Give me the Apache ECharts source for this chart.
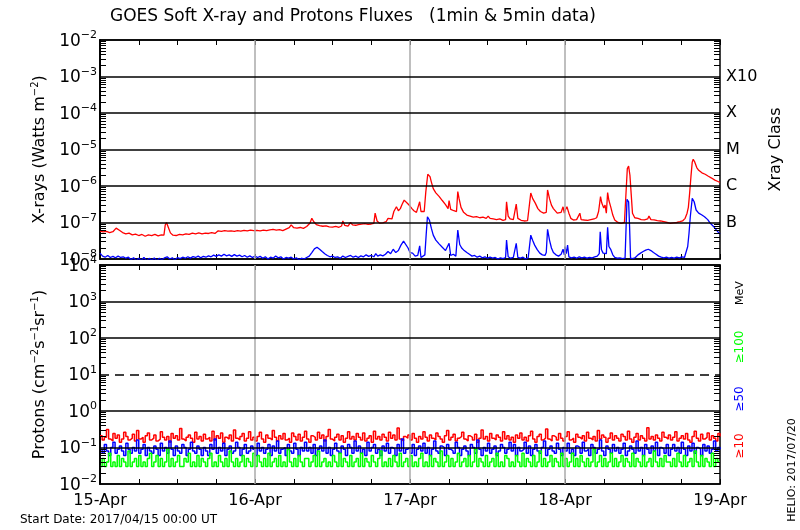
<!DOCTYPE html>
<html><head><meta charset="utf-8">
<script src="https://cdn.jsdelivr.net/npm/echarts@6/dist/echarts.min.js"></script>
<style>html,body{margin:0;padding:0;background:#fff}#c{width:800px;height:530px}</style>
</head><body><div id="c"></div>
<script>
const dayLabels = ['15-Apr','16-Apr','17-Apr','18-Apr','19-Apr'];
const xrayClassExponents = [-7,-6,-5,-4,-3];
const xrayClassLabels = ['B','C','M','X','X10'];
const xrayGridValues = [1e-3,1e-4,1e-5,1e-6,1e-7];
const protonGridValues = [1e3,1e2,1e1,1e0,1e-1];
const protonDashedValue = 10;
const dayBoundaries = [24,48,72];

// GOES long channel (1-8 A), [hours since start, W/m^2]
const xrayLong = [
[0,5.8e-8],[0.5,5.5e-8],[1,5.7e-8],[1.5,5.3e-8],[2,5.6e-8],[2.5,7.0e-8],[3,6.1e-8],[3.5,5.3e-8],[4,4.9e-8],[4.5,5.1e-8],[5,4.6e-8],[5.5,4.8e-8],[6,4.4e-8],[6.5,4.7e-8],[7,4.2e-8],[7.5,4.6e-8],[8,4.4e-8],[8.5,4.7e-8],[9,4.3e-8],[9.5,4.6e-8],[9.9,4.5e-8],[10.1,8.5e-8],[10.3,1.0e-7],[10.6,7.2e-8],[10.9,5.2e-8],
[11.3,4.5e-8],[11.8,4.4e-8],[12.3,4.7e-8],[12.8,4.6e-8],[13.3,4.9e-8],[13.8,4.7e-8],[14.3,5.1e-8],[14.8,4.9e-8],[15.3,5.2e-8],[15.8,4.9e-8],[16.3,5.1e-8],[16.8,5.0e-8],[17.3,5.3e-8],[17.8,5.0e-8],[18.3,5.9e-8],[18.8,5.7e-8],[19.3,6.0e-8],[19.8,5.8e-8],[20.3,5.9e-8],[20.8,5.7e-8],[21.3,6.0e-8],[21.8,5.8e-8],[22.3,6.1e-8],[22.8,5.9e-8],[23.3,6.2e-8],[23.8,6.0e-8],
[24.3,6.1e-8],[24.8,5.9e-8],[25.3,6.2e-8],[25.8,6.0e-8],[26.3,6.3e-8],[26.8,6.5e-8],[27.3,6.2e-8],[27.8,6.4e-8],[28.3,6.0e-8],[28.8,6.6e-8],[29.3,7.2e-8],[29.6,8.6e-8],[30,7.2e-8],[30.5,7.0e-8],[31,7.3e-8],[31.5,6.9e-8],[32,7.8e-8],[32.5,9.5e-8],[32.8,1.3e-7],[33.1,1.05e-7],[33.5,8.8e-8],[34,8.2e-8],[34.5,7.9e-8],[35,8.1e-8],[35.5,7.6e-8],[36,7.5e-8],[36.5,7.8e-8],[37,7.4e-8],[37.4,8.0e-8],[37.6,1.1e-7],[37.9,8.3e-8],[38.4,8.0e-8],[38.8,1.0e-7],[39.1,8.6e-8],[39.6,8.4e-8],[40,8.8e-8],[40.5,9.0e-8],[41,9.3e-8],[41.5,8.9e-8],[42,9.1e-8],[42.4,9.5e-8],[42.6,1.8e-7],[42.9,1.1e-7],[43.3,9.6e-8],[43.8,9.8e-8],[44.3,1.05e-7],[44.6,1.3e-7],[44.9,1.15e-7],[45.2,1.25e-7],[45.5,2.0e-7],[45.9,2.7e-7],[46.2,2.1e-7],[46.5,2.4e-7],[46.8,3.2e-7],[47.1,4.1e-7],[47.4,3.7e-7],[47.7,3.2e-7],
[48,2.8e-7],[48.3,2.4e-7],[48.6,2.1e-7],[49,1.9e-7],[49.3,1.8e-7],[49.5,3.7e-7],[49.7,2.0e-7],[50,1.8e-7],[50.2,2.0e-7],[50.45,7.0e-7],[50.75,2.1e-6],[51.1,1.8e-6],[51.3,1.3e-6],[51.6,8.5e-7],[52,6.5e-7],[52.5,5.2e-7],[53,4.0e-7],[53.5,3.1e-7],[53.9,2.4e-7],[54.05,4.0e-7],[54.3,2.3e-7],[54.8,2.1e-7],[55.2,2.0e-7],[55.4,7.0e-7],[55.6,4.5e-7],[55.9,2.6e-7],[56.3,1.9e-7],[56.8,1.6e-7],[57.3,1.5e-7],[57.8,1.4e-7],[58.3,1.45e-7],[58.8,1.35e-7],[59.3,1.4e-7],[59.8,1.3e-7],[60.1,1.5e-7],[60.4,1.3e-7],[60.9,1.25e-7],[61.4,1.2e-7],[61.9,1.25e-7],[62.4,1.15e-7],[62.8,1.2e-7],[62.95,3.7e-7],[63.2,1.5e-7],[63.5,1.25e-7],[64,1.2e-7],[64.3,1.3e-7],[64.45,3.2e-7],[64.7,1.3e-7],[65.2,1.15e-7],[65.7,1.1e-7],[66.2,1.12e-7],[66.5,1.1e-7],[66.7,6.4e-7],[67,4.5e-7],[67.4,3.4e-7],[67.8,2.4e-7],[68.2,2.0e-7],[68.7,1.8e-7],[69.1,1.9e-7],[69.3,7.8e-7],[69.6,4.5e-7],[69.9,3.0e-7],[70.2,2.4e-7],[70.5,2.6e-7],[70.8,1.8e-7],[71.1,1.6e-7],[71.4,1.9e-7],[71.7,2.7e-7],[71.9,1.8e-7],
[72,2.1e-7],[72.3,2.7e-7],[72.6,1.8e-7],[72.9,1.3e-7],[73.3,1.17e-7],[73.8,1.2e-7],[74.1,1.15e-7],[74.3,1.8e-7],[74.5,1.2e-7],[75,1.17e-7],[75.5,1.15e-7],[76,1.2e-7],[76.5,1.25e-7],[76.9,1.35e-7],[77.2,2.0e-7],[77.5,5.1e-7],[77.7,3.4e-7],[78,2.5e-7],[78.2,3.0e-7],[78.4,1.8e-7],[78.6,6.6e-7],[78.8,4.0e-7],[79.1,2.6e-7],[79.4,1.6e-7],[79.7,1.17e-7],[80.2,1.0e-7],[80.7,9.5e-8],[81.2,1.0e-7],[81.5,1.1e-7],[81.65,3.0e-6],[81.85,3.5e-6],[82.05,2.0e-6],[82.25,6.0e-7],[82.45,1.8e-7],[82.8,1.35e-7],[83.3,1.3e-7],[83.8,1.2e-7],[84.3,1.18e-7],[84.8,1.25e-7],[85,1.5e-7],[85.3,1.2e-7],[85.8,1.18e-7],[86.3,1.12e-7],[86.8,1.1e-7],[87.3,1.05e-7],[87.8,1.0e-7],[88.3,9.5e-8],[88.8,9.8e-8],[89.3,1.0e-7],[89.8,1.05e-7],[90.2,1.1e-7],[90.6,1.3e-7],[90.9,1.8e-7],[91.1,2.6e-7],[91.3,6.4e-7],[91.5,1.8e-6],[91.7,4.5e-6],[91.85,5.4e-6],[92.1,4.5e-6],[92.4,3.2e-6],[92.7,2.7e-6],[93.2,2.3e-6],[93.7,2.1e-6],[94.2,1.85e-6],[94.7,1.65e-6],[95.2,1.45e-6],[95.6,1.35e-6],[96,1.25e-6]
];

// GOES short channel (0.5-4 A), [hours since start, W/m^2]
const xrayShort = [
[0,1.45e-8],[0.4,1.2e-8],[0.8,1.12e-8],[1.2,1.25e-8],[1.6,1.1e-8],[2,1.18e-8],[2.4,1.08e-8],[2.8,1.2e-8],[3.2,1.1e-8],[3.6,1.15e-8],[4,1.05e-8],[4.4,1.12e-8],[4.8,0.95e-8],[5.2,1.08e-8],[5.6,0.9e-8],[6,1.05e-8],[6.4,0.92e-8],[6.8,1.1e-8],[7.2,0.9e-8],[7.6,1.04e-8],[8,0.93e-8],[8.4,1.06e-8],[8.8,0.9e-8],[9.2,1.05e-8],[9.6,0.95e-8],[10,1.08e-8],[10.4,1.15e-8],[10.8,1.0e-8],[11.2,1.08e-8],[11.6,0.93e-8],[12,1.1e-8],[12.4,1.02e-8],[12.8,1.12e-8],[13.2,1.05e-8],[13.6,1.15e-8],[14,1.06e-8],[14.4,1.16e-8],[14.8,1.1e-8],[15.2,1.2e-8],[15.6,1.08e-8],[16,1.18e-8],[16.4,1.12e-8],[16.8,1.22e-8],[17.2,1.15e-8],[17.6,1.28e-8],[18,1.18e-8],[18.4,1.3e-8],[18.8,1.2e-8],[19.2,1.35e-8],[19.6,1.22e-8],[20,1.3e-8],[20.4,1.18e-8],[20.8,1.32e-8],[21.2,1.2e-8],[21.6,1.28e-8],[22,1.15e-8],[22.4,1.25e-8],[22.8,1.12e-8],[23.2,1.22e-8],[23.6,1.1e-8],
[24,1.2e-8],[24.4,1.1e-8],[24.8,1.18e-8],[25.2,1.05e-8],[25.6,1.15e-8],[26,1.0e-8],[26.4,1.12e-8],[26.8,1.05e-8],[27.2,1.2e-8],[27.6,1.08e-8],[28,1.15e-8],[28.4,1.0e-8],[28.8,1.1e-8],[29.2,1.05e-8],[29.6,1.12e-8],[30,1.0e-8],[30.4,1.08e-8],[30.8,0.95e-8],[31.2,1.05e-8],[31.6,1.0e-8],[32,1.1e-8],[32.4,1.2e-8],[32.8,1.5e-8],[33.2,1.9e-8],[33.6,2.1e-8],[34,1.85e-8],[34.4,1.6e-8],[34.8,1.4e-8],[35.2,1.25e-8],[35.6,1.15e-8],[36,1.2e-8],[36.4,1.1e-8],[36.8,1.15e-8],[37.2,1.05e-8],[37.6,1.2e-8],[38,1.1e-8],[38.4,1.18e-8],[38.8,1.25e-8],[39.2,1.12e-8],[39.6,1.2e-8],[40,1.1e-8],[40.4,1.22e-8],[40.8,1.15e-8],[41.2,1.3e-8],[41.6,1.18e-8],[42,1.25e-8],[42.4,1.15e-8],[42.7,1.4e-8],[43,1.2e-8],[43.4,1.3e-8],[43.8,1.22e-8],[44.2,1.35e-8],[44.6,1.6e-8],[45,1.4e-8],[45.4,1.85e-8],[45.8,1.5e-8],[46.2,1.7e-8],[46.6,2.4e-8],[47,3.1e-8],[47.3,2.8e-8],[47.7,2.0e-8],
[48,1.5e-8],[48.4,1.45e-8],[48.8,1.2e-8],[49.2,1.25e-8],[49.5,2.3e-8],[49.7,1.1e-8],[50,1.05e-8],[50.3,1.3e-8],[50.5,4.5e-8],[50.7,1.44e-7],[51,1.17e-7],[51.3,7.0e-8],[51.6,4.5e-8],[52,3.3e-8],[52.5,2.6e-8],[53,2.1e-8],[53.5,1.7e-8],[53.8,1.55e-8],[54.05,2.7e-8],[54.3,1.25e-8],[54.7,1.35e-8],[55.1,1.2e-8],[55.4,6.2e-8],[55.7,2.5e-8],[56,2.0e-8],[56.4,1.7e-8],[56.8,1.5e-8],[57.2,1.35e-8],[57.6,1.2e-8],[58,1.25e-8],[58.4,1.12e-8],[58.8,1.2e-8],[59.2,1.08e-8],[59.6,1.15e-8],[60,1.05e-8],[60.4,1.12e-8],[60.8,1.05e-8],[61.2,1.1e-8],[61.6,1.0e-8],[62,1.08e-8],[62.4,1.02e-8],[62.8,1.1e-8],[62.95,3.3e-8],[63.2,1.15e-8],[63.6,1.05e-8],[64,1.1e-8],[64.3,1.12e-8],[64.45,2.7e-8],[64.7,1.1e-8],[65.1,1.05e-8],[65.5,1.12e-8],[65.9,1.0e-8],[66.3,1.08e-8],[66.5,1.1e-8],[66.7,4.5e-8],[67,3.2e-8],[67.3,2.4e-8],[67.7,1.8e-8],[68.1,1.45e-8],[68.5,1.3e-8],[68.9,1.25e-8],[69.1,1.5e-8],[69.3,6.5e-8],[69.6,3.3e-8],[69.9,2.0e-8],[70.2,1.5e-8],[70.6,1.3e-8],[71,1.2e-8],[71.4,1.35e-8],[71.7,1.85e-8],[71.9,1.3e-8],
[72,2.2e-8],[72.2,1.4e-8],[72.4,2.4e-8],[72.6,1.15e-8],[73,1.08e-8],[73.4,1.12e-8],[73.8,1.05e-8],[74.2,1.15e-8],[74.6,1.08e-8],[75,1.12e-8],[75.4,1.05e-8],[75.8,1.1e-8],[76.2,1.08e-8],[76.6,1.15e-8],[77,1.2e-8],[77.3,1.4e-8],[77.45,5.6e-8],[77.65,1.8e-8],[77.9,1.45e-8],[78.2,1.55e-8],[78.4,1.4e-8],[78.6,7.4e-8],[78.8,2.2e-8],[79.1,1.8e-8],[79.4,1.3e-8],[79.7,1.1e-8],[80.1,1.05e-8],[80.5,1.08e-8],[80.9,1.02e-8],[81.3,1.06e-8],[81.5,1.1e-8],[81.6,4.3e-7],[81.85,3.7e-7],[82,7.7e-8],[82.15,1.05e-8],[82.5,1.02e-8],[82.9,1.1e-8],[83.3,1.3e-8],[83.7,1.45e-8],[84.1,1.6e-8],[84.5,1.75e-8],[84.9,1.85e-8],[85.3,1.7e-8],[85.7,1.5e-8],[86.1,1.35e-8],[86.5,1.2e-8],[86.9,1.12e-8],[87.3,1.08e-8],[87.7,1.12e-8],[88.1,1.05e-8],[88.5,1.1e-8],[88.9,1.05e-8],[89.3,1.12e-8],[89.7,1.08e-8],[90.1,1.15e-8],[90.5,1.1e-8],[90.8,1.2e-8],[91,2.2e-8],[91.2,5.0e-8],[91.4,1.44e-7],[91.7,4.6e-7],[92,3.7e-7],[92.3,2.2e-7],[92.7,1.8e-7],[93.2,1.6e-7],[93.6,1.44e-7],[94.1,1.2e-7],[94.5,9.5e-8],[95,7.8e-8],[95.5,6.0e-8],[96,4.8e-8]
];

// Proton fluxes, one sample every protonStepHours from 15-Apr 00:00 (20 min)
const protonStepHours = 1/3;
const protons10 = [
0.21,0.16,0.19,0.31,0.17,0.15,0.24,0.18,0.22,0.14,0.17,0.26,0.20,0.16,0.18,0.23,0.15,0.29,0.17,0.19,0.14,0.21,0.25,0.16,
0.18,0.22,0.15,0.17,0.27,0.19,0.16,0.20,0.14,0.24,0.18,0.21,0.16,0.33,0.17,0.15,0.19,0.22,0.18,0.14,0.26,0.17,0.20,0.15,
0.23,0.17,0.19,0.15,0.28,0.16,0.21,0.18,0.25,0.14,0.19,0.17,0.22,0.15,0.30,0.18,0.16,0.20,0.24,0.15,0.18,0.27,0.16,0.19,
0.15,0.20,0.26,0.17,0.14,0.22,0.18,0.16,0.29,0.19,0.15,0.21,0.17,0.24,0.16,0.18,0.14,0.25,0.20,0.16,0.23,0.15,0.19,0.28,
0.17,0.14,0.21,0.19,0.16,0.26,0.18,0.22,0.15,0.20,0.31,0.17,0.15,0.19,0.23,0.16,0.21,0.14,0.18,0.27,0.17,0.20,0.16,0.24,
0.19,0.16,0.25,0.15,0.18,0.21,0.14,0.28,0.17,0.20,0.16,0.23,0.19,0.15,0.26,0.18,0.22,0.16,0.34,0.17,0.15,0.20,0.18,0.22,
0.16,0.24,0.18,0.14,0.20,0.17,0.27,0.19,0.15,0.22,0.18,0.16,0.25,0.20,0.17,0.14,0.21,0.29,0.16,0.19,0.23,0.15,0.18,0.20,
0.26,0.17,0.15,0.21,0.19,0.16,0.23,0.14,0.18,0.30,0.17,0.20,0.15,0.24,0.18,0.16,0.22,0.19,0.15,0.27,0.17,0.21,0.16,0.19,
0.14,0.22,0.18,0.25,0.16,0.19,0.15,0.21,0.28,0.17,0.14,0.20,0.23,0.16,0.18,0.32,0.17,0.15,0.21,0.19,0.16,0.24,0.18,0.15,
0.20,0.27,0.16,0.18,0.14,0.23,0.19,0.17,0.21,0.15,0.26,0.18,0.16,0.20,0.15,0.29,0.17,0.22,0.19,0.14,0.18,0.25,0.16,0.21,
0.18,0.15,0.23,0.20,0.16,0.28,0.17,0.14,0.19,0.24,0.16,0.21,0.18,0.15,0.35,0.17,0.20,0.16,0.22,0.18,0.15,0.26,0.19,0.17,
0.22,0.16,0.19,0.27,0.15,0.18,0.21,0.17,0.24,0.16,0.14,0.20,0.28,0.18,0.15,0.23,0.17,0.19,0.25,0.16,0.21,0.18,0.15,0.24,
0.20
];
const protons50 = [
0.09,0.07,0.12,0.08,0.06,0.10,0.14,0.07,0.09,0.11,0.08,0.06,0.13,0.09,0.07,0.10,0.08,0.16,0.07,0.09,0.12,0.06,0.10,0.08,
0.07,0.11,0.09,0.06,0.13,0.08,0.10,0.07,0.15,0.09,0.06,0.11,0.08,0.07,0.12,0.10,0.06,0.09,0.14,0.08,0.07,0.11,0.09,0.06,
0.10,0.08,0.06,0.12,0.09,0.17,0.07,0.10,0.08,0.13,0.06,0.09,0.11,0.07,0.08,0.14,0.10,0.06,0.09,0.12,0.07,0.08,0.11,0.09,
0.06,0.13,0.08,0.10,0.07,0.09,0.12,0.06,0.11,0.08,0.15,0.07,0.09,0.10,0.06,0.12,0.08,0.07,0.13,0.09,0.06,0.10,0.08,0.14,
0.08,0.10,0.07,0.12,0.06,0.09,0.11,0.08,0.16,0.07,0.10,0.06,0.09,0.13,0.08,0.07,0.11,0.09,0.06,0.12,0.10,0.07,0.15,0.08,
0.11,0.07,0.09,0.06,0.14,0.08,0.10,0.12,0.07,0.09,0.06,0.11,0.08,0.13,0.07,0.10,0.09,0.06,0.12,0.08,0.17,0.07,0.09,0.10,
0.07,0.12,0.06,0.09,0.11,0.08,0.13,0.07,0.10,0.06,0.09,0.15,0.08,0.07,0.11,0.10,0.06,0.12,0.09,0.08,0.07,0.14,0.10,0.06,
0.09,0.11,0.08,0.06,0.12,0.10,0.07,0.16,0.09,0.06,0.10,0.08,0.13,0.07,0.09,0.11,0.06,0.08,0.12,0.10,0.07,0.09,0.14,0.08,
0.12,0.06,0.10,0.08,0.09,0.14,0.07,0.11,0.06,0.09,0.12,0.08,0.07,0.10,0.15,0.06,0.09,0.11,0.08,0.07,0.13,0.09,0.06,0.10,
0.08,0.13,0.07,0.09,0.06,0.11,0.10,0.07,0.14,0.08,0.09,0.06,0.12,0.10,0.07,0.09,0.16,0.08,0.06,0.11,0.09,0.07,0.12,0.08,
0.10,0.07,0.09,0.13,0.06,0.08,0.11,0.09,0.07,0.15,0.08,0.10,0.06,0.12,0.09,0.07,0.11,0.08,0.14,0.06,0.10,0.09,0.07,0.12,
0.06,0.09,0.12,0.08,0.10,0.07,0.14,0.09,0.06,0.11,0.08,0.13,0.07,0.10,0.09,0.06,0.12,0.08,0.11,0.07,0.09,0.15,0.08,0.10,
0.09
];
const protons100 = [
0.03,0.05,0.03,0.04,0.07,0.03,0.04,0.03,0.06,0.03,0.05,0.04,0.03,0.08,0.03,0.04,0.05,0.03,0.06,0.03,0.04,0.03,0.05,0.07,
0.03,0.04,0.06,0.03,0.05,0.03,0.04,0.09,0.03,0.05,0.03,0.04,0.06,0.03,0.03,0.05,0.04,0.07,0.03,0.04,0.03,0.06,0.03,0.05,
0.04,0.03,0.05,0.07,0.03,0.04,0.03,0.06,0.04,0.03,0.05,0.03,0.08,0.04,0.03,0.05,0.03,0.04,0.06,0.03,0.05,0.04,0.03,0.07,
0.03,0.06,0.04,0.03,0.05,0.03,0.07,0.03,0.04,0.05,0.03,0.06,0.03,0.04,0.03,0.09,0.04,0.03,0.05,0.03,0.06,0.04,0.03,0.05,
0.05,0.03,0.04,0.06,0.03,0.08,0.03,0.04,0.05,0.03,0.04,0.03,0.06,0.04,0.03,0.07,0.03,0.05,0.04,0.03,0.06,0.03,0.04,0.05,
0.03,0.07,0.03,0.05,0.04,0.03,0.06,0.04,0.03,0.05,0.08,0.03,0.04,0.03,0.05,0.03,0.06,0.04,0.03,0.07,0.03,0.04,0.05,0.03,
0.06,0.03,0.04,0.03,0.05,0.07,0.03,0.04,0.03,0.06,0.03,0.05,0.04,0.03,0.08,0.03,0.04,0.06,0.03,0.05,0.03,0.04,0.07,0.03,
0.04,0.05,0.03,0.06,0.03,0.04,0.09,0.03,0.05,0.04,0.03,0.06,0.03,0.04,0.05,0.03,0.07,0.03,0.04,0.03,0.06,0.05,0.03,0.04,
0.03,0.06,0.04,0.03,0.07,0.03,0.05,0.04,0.03,0.06,0.03,0.04,0.08,0.03,0.05,0.03,0.04,0.06,0.03,0.05,0.04,0.03,0.07,0.03,
0.05,0.03,0.04,0.07,0.03,0.05,0.03,0.06,0.04,0.03,0.05,0.03,0.04,0.09,0.03,0.04,0.06,0.03,0.05,0.03,0.04,0.07,0.03,0.05,
0.03,0.04,0.06,0.03,0.05,0.04,0.03,0.07,0.03,0.05,0.04,0.03,0.06,0.03,0.04,0.05,0.03,0.08,0.04,0.03,0.05,0.03,0.06,0.04,
0.04,0.03,0.05,0.03,0.07,0.04,0.03,0.06,0.03,0.04,0.05,0.03,0.08,0.04,0.03,0.06,0.03,0.05,0.04,0.03,0.07,0.03,0.05,0.04,
0.04
];

const FONT = 'DejaVu Sans';
const HOURS_MAX = 96;
const TICK_HOURS = 6 / (620 / HOURS_MAX); // ~6 px long minor ticks, in axis units
const chart = echarts.init(document.getElementById('c'));

function toTimed(arr){ return arr.map((v,i)=>[i*protonStepHours, v]); }
function powLabel(v){
  const e = Math.round(Math.log10(v));
  return '{b|10}{s|' + (e < 0 ? '\u2212' : '') + Math.abs(e) + '}';
}
const powRich = {
  b:{fontSize:17, fontFamily:FONT, color:'#000', verticalAlign:'bottom'},
  s:{fontSize:11, fontFamily:FONT, color:'#000', verticalAlign:'bottom', padding:[0,0,9,0]}
};
function logMinorValues(e0, e1){
  const out = [];
  for (let e = e0; e < e1; e++) for (let k = 2; k <= 9; k++) out.push(k*Math.pow(10, e));
  return out;
}
function minorTickSeries(xi, yi, e0, e1){
  const data = [];
  logMinorValues(e0, e1).forEach(v => {
    data.push([{coord:[0, v]}, {coord:[TICK_HOURS, v]}]);
    data.push([{coord:[HOURS_MAX - TICK_HOURS, v]}, {coord:[HOURS_MAX, v]}]);
  });
  return {
    type:'line', xAxisIndex:xi, yAxisIndex:yi, data:[], z:6, silent:true,
    markLine:{silent:true, precision:14, symbol:['none','none'], label:{show:false}, animation:false,
      lineStyle:{color:'#000', width:1, type:'solid'}, data}
  };
}
function xAxisCfg(gridIndex, position, showLabels){
  return {
    type:'value', gridIndex, position, min:0, max:HOURS_MAX, interval:24,
    axisLine:{show:true, lineStyle:{color:'#000', width:1.5}},
    axisTick:{show:true, inside:true, length:5, lineStyle:{color:'#000', width:1}},
    minorTick:{show:true, splitNumber:4, length:5, lineStyle:{color:'#000', width:1}},
    splitLine:{show:false},
    axisLabel:{show:showLabels, fontFamily:FONT, fontSize:16, color:'#000', margin:9,
      formatter: v => dayLabels[Math.round(v/24)]}
  };
}
function yAxisCfg(gridIndex, position, min, max, extra){
  return Object.assign({
    type:'log', logBase:10, gridIndex, position, min, max,
    axisLine:{show:true, lineStyle:{color:'#000', width:1.5}},
    axisTick:{show:false}, minorTick:{show:false}, splitLine:{show:false},
    axisLabel:{show:false}
  }, extra || {});
}
function gridLineSeries(xi, yi, hValues, dashedValue){
  return {
    type:'line', xAxisIndex:xi, yAxisIndex:yi, data:[], z:5, silent:true,
    markLine:{silent:true, precision:14, symbol:['none','none'], label:{show:false}, animation:false,
      data: hValues.map(v => ({yAxis:v, lineStyle:{color:'#000', width:1.5,
        type: v === dashedValue ? [9,6] : 'solid'}}))}
  };
}
function dayLineSeries(xi, yi){
  return {
    type:'line', xAxisIndex:xi, yAxisIndex:yi, data:[], z:1, silent:true,
    markLine:{silent:true, precision:14, symbol:['none','none'], label:{show:false}, animation:false,
      data: dayBoundaries.map(h => ({xAxis:h, lineStyle:{color:'#aaaaaa', width:1.5, type:'solid'}}))}
  };
}
const lineBase = {type:'line', showSymbol:false, symbol:'none', z:3, clip:true, silent:true, animation:false};

const option = {
  animation:false,
  backgroundColor:'#fff',
  grid:[
    {left:100, top:40, width:620, height:219, show:true, borderColor:'#000', borderWidth:1.5},
    {left:100, top:265, width:620, height:219, show:true, borderColor:'#000', borderWidth:1.5}
  ],
  xAxis:[
    xAxisCfg(0,'bottom',false), xAxisCfg(0,'top',false),
    xAxisCfg(1,'bottom',true), xAxisCfg(1,'top',false)
  ],
  yAxis:[
    yAxisCfg(0,'left',1e-8,1e-2,{
      axisLabel:{show:true, margin:3, formatter:powLabel, rich:powRich},
      name:'{a|X-rays (Watts m}{s|\u22122}{a|)}', nameLocation:'middle', nameRotate:90, nameGap:48,
      nameTextStyle:{rich:{a:{fontSize:16, fontFamily:FONT, color:'#000', verticalAlign:'bottom'},
        s:{fontSize:10, fontFamily:FONT, color:'#000', verticalAlign:'bottom', padding:[0,0,8,0]}}}
    }),
    yAxisCfg(0,'right',1e-8,1e-2,{
      axisLabel:{show:true, margin:6, fontFamily:FONT, fontSize:16, color:'#000',
        formatter: v => { const i = xrayClassExponents.indexOf(Math.round(Math.log10(v))); return i >= 0 ? xrayClassLabels[i] : ''; }},
      name:'Xray Class', nameLocation:'middle', nameRotate:90, nameGap:30,
      nameTextStyle:{fontSize:16, fontFamily:FONT, color:'#000'}
    }),
    yAxisCfg(1,'left',1e-2,1e4,{
      axisLabel:{show:true, margin:3, formatter:powLabel, rich:powRich},
      name:'{a|Protons (cm}{s|\u22122}{a|s}{s|\u22121}{a|sr}{s|\u22121}{a|)}', nameLocation:'middle', nameRotate:90, nameGap:48,
      nameTextStyle:{rich:{a:{fontSize:16, fontFamily:FONT, color:'#000', verticalAlign:'bottom'},
        s:{fontSize:10, fontFamily:FONT, color:'#000', verticalAlign:'bottom', padding:[0,0,8,0]}}}
    }),
    yAxisCfg(1,'right',1e-2,1e4)
  ],
  series:[
    dayLineSeries(0,0),
    dayLineSeries(2,2),
    Object.assign({}, lineBase, {name:'xrayLong', xAxisIndex:0, yAxisIndex:0, data:xrayLong, lineStyle:{color:'#ff0000', width:1.3}}),
    Object.assign({}, lineBase, {name:'xrayShort', xAxisIndex:0, yAxisIndex:0, data:xrayShort, lineStyle:{color:'#0000ff', width:1.3}}),
    Object.assign({}, lineBase, {name:'p10', xAxisIndex:2, yAxisIndex:2, step:'end', data:toTimed(protons10), lineStyle:{color:'#ff0000', width:1.5}}),
    Object.assign({}, lineBase, {name:'p50', xAxisIndex:2, yAxisIndex:2, step:'end', data:toTimed(protons50), lineStyle:{color:'#0000ff', width:1.5}}),
    Object.assign({}, lineBase, {name:'p100', xAxisIndex:2, yAxisIndex:2, step:'end', data:toTimed(protons100), lineStyle:{color:'#00ff00', width:1.5}}),
    gridLineSeries(0,0,xrayGridValues,null),
    gridLineSeries(2,2,protonGridValues,protonDashedValue),
    minorTickSeries(0,0,-8,-2),
    minorTickSeries(2,2,-2,4)
  ],
  graphic:[
    {type:'text', left:110, top:8, style:{text:'GOES Soft X-ray and Protons Fluxes   (1min & 5min data)', fontFamily:FONT, fontSize:17, fill:'#000'}},
    {type:'text', left:20, top:514, style:{text:'Start Date: 2017/04/15 00:00 UT', fontFamily:FONT, fontSize:12, fill:'#000'}},
    {type:'text', x:740, y:293, rotation:Math.PI/2, style:{text:'MeV', x:0, y:0, align:'center', verticalAlign:'middle', textAlign:'center', textVerticalAlign:'middle', fontFamily:FONT, fontSize:11, fill:'#000'}},
    {type:'text', x:740, y:347, rotation:Math.PI/2, style:{text:'\u2265100', x:0, y:0, align:'center', verticalAlign:'middle', textAlign:'center', textVerticalAlign:'middle', fontFamily:FONT, fontSize:12, fill:'#00ff00'}},
    {type:'text', x:740, y:399, rotation:Math.PI/2, style:{text:'\u226550', x:0, y:0, align:'center', verticalAlign:'middle', textAlign:'center', textVerticalAlign:'middle', fontFamily:FONT, fontSize:12, fill:'#0000ff'}},
    {type:'text', x:740, y:446, rotation:Math.PI/2, style:{text:'\u226510', x:0, y:0, align:'center', verticalAlign:'middle', textAlign:'center', textVerticalAlign:'middle', fontFamily:FONT, fontSize:12, fill:'#ff0000'}},
    {type:'text', x:792, y:470, rotation:Math.PI/2, style:{text:'HELIO: 2017/07/20', x:0, y:0, align:'center', verticalAlign:'middle', textAlign:'center', textVerticalAlign:'middle', fontFamily:FONT, fontSize:11, fill:'#000'}}
  ]
};
chart.setOption(option);
</script></body></html>
